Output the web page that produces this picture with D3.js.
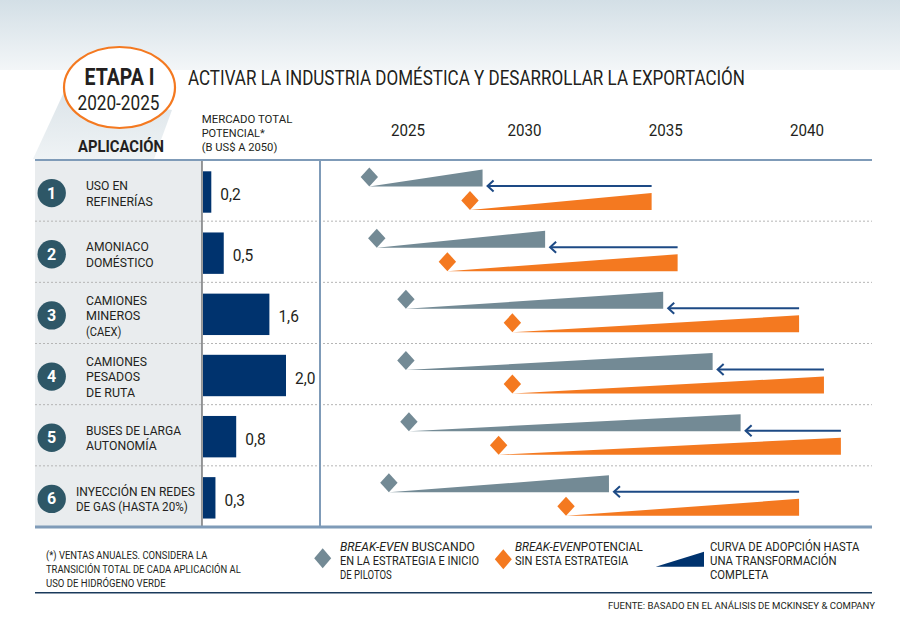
<!DOCTYPE html>
<html><head><meta charset="utf-8">
<script src="https://cdn.jsdelivr.net/npm/d3@7"></script>
<style>body{margin:0;background:#fff}svg{display:block;font-family:Roboto,"Liberation Sans",sans-serif}</style>
</head><body><svg id="c" width="900" height="633"></svg>
<script>
// ---------- DATA ----------
const appNumbers = [1, 2, 3, 4, 5, 6];
const appLabels = [
  ["USO EN", "REFINERÍAS"],
  ["AMONIACO", "DOMÉSTICO"],
  ["CAMIONES", "MINEROS", "(CAEX)"],
  ["CAMIONES", "PESADOS", "DE RUTA"],
  ["BUSES DE LARGA", "AUTONOMÍA"],
  ["INYECCIÓN EN REDES", "DE GAS (HASTA 20%)"]
];
const marketValues = [0.2, 0.5, 1.6, 2.0, 0.8, 0.3];          // B US$ a 2050
const breakEvenStrategy = [2023.34, 2023.66, 2024.91, 2024.91, 2025.04, 2024.18];
const adoptionStrategyEnd = [2028.2, 2030.73, 2034.91, 2036.66, 2037.65, 2032.99];
const breakEvenNoStrategy = [2027.66, 2026.69, 2029.48, 2029.48, 2028.89, 2031.47];
const adoptionNoStrategyEnd = [2034.5, 2035.42, 2039.72, 2040.6, 2041.2, 2039.72];
const yearTicks = [2025, 2030, 2035, 2040];
const marketHeader = ["MERCADO TOTAL", "POTENCIAL*", "(B US$ A 2050)"];
const footnoteLines = ["(*) VENTAS ANUALES. CONSIDERA LA", "TRANSICIÓN TOTAL DE CADA APLICACIÓN AL", "USO DE HIDRÓGENO VERDE"];
const legendGray = [["BREAK-EVEN", " BUSCANDO"], ["", "EN LA ESTRATEGIA E INICIO"], ["", "DE PILOTOS"]];
const legendOrange = [["BREAK-EVEN", "POTENCIAL"], ["", "SIN ESTA ESTRATEGIA"]];
const legendCurve = ["CURVA DE ADOPCIÓN HASTA", "UNA TRANSFORMACIÓN", "COMPLETA"];
const titleText = "ACTIVAR LA INDUSTRIA DOMÉSTICA Y DESARROLLAR LA EXPORTACIÓN";
const sourceText = "FUENTE: BASADO EN EL ANÁLISIS DE MCKINSEY & COMPANY";

// ---------- LAYOUT / STYLE ----------
const C = {
  gray: "#738a95", orange: "#f47920", navy: "#00336e", arrow: "#1d4a85",
  circle: "#2e5767", panel: "#e9ecee", steel: "#7f9bb8", text: "#231f20", dash: "#b5b5b5"
};
const textW = {
  "USO EN": 42, "REFINERÍAS": 66.7, "AMONIACO": 62.7, "DOMÉSTICO": 67.7, "CAMIONES": 61,
  "MINEROS": 54.3, "(CAEX)": 35.3, "PESADOS": 54, "DE RUTA": 49, "BUSES DE LARGA": 95,
  "AUTONOMÍA": 70.7, "INYECCIÓN EN REDES": 119, "DE GAS (HASTA 20%)": 111.7,
  "MERCADO TOTAL": 90.6, "POTENCIAL*": 63, "(B US$ A 2050)": 75.6,
  "(*) VENTAS ANUALES. CONSIDERA LA": 161.3, "TRANSICIÓN TOTAL DE CADA APLICACIÓN AL": 194.7,
  "USO DE HIDRÓGENO VERDE": 119.7,
  "EN LA ESTRATEGIA E INICIO": 139, "DE PILOTOS": 51.7, "SIN ESTA ESTRATEGIA": 113.3,
  "CURVA DE ADOPCIÓN HASTA": 149.3, "UNA TRANSFORMACIÓN": 126.7, "COMPLETA": 58.3
};
const L = { left: 35, right: 872, top: 160, bottom: 527, col1: 202, col2: 320 };

const svg = d3.select("#c");
const defs = svg.append("defs");
const g1 = defs.append("linearGradient").attr("id", "hdr").attr("x1", 0).attr("y1", 0).attr("x2", 0).attr("y2", 1);
g1.append("stop").attr("offset", 0).attr("stop-color", "#d3dfe6");
g1.append("stop").attr("offset", 1).attr("stop-color", "#f3f6f8");
const g2 = defs.append("linearGradient").attr("id", "shd").attr("x1", 0).attr("y1", 0).attr("x2", 0).attr("y2", 1);
g2.append("stop").attr("offset", 0).attr("stop-color", "#dce4e9");
g2.append("stop").attr("offset", 1).attr("stop-color", "#eff3f5");

function T(parent, str, x, y, o = {}) {
  const t = parent.append("text").attr("x", x).attr("y", y).text(str)
    .attr("font-size", o.size || 13).attr("fill", o.fill || C.text)
    .attr("font-weight", o.weight || 400).attr("text-anchor", o.anchor || "start");
  if (o.italic) t.attr("font-style", "italic");
  const w = o.w === 0 ? null : (o.w || textW[str]);
  if (w) t.attr("textLength", w).attr("lengthAdjust", "spacingAndGlyphs");
  return t;
}

// background header band
svg.append("rect").attr("x", 0).attr("y", 0).attr("width", 900).attr("height", 70).attr("fill", "url(#hdr)");
// shadow under the oval
svg.append("path").attr("d", "M64,92 L172,110 L154,159 L33,159 Z").attr("fill", "url(#shd)");
svg.append("ellipse").attr("cx", 119.5).attr("cy", 87.5).attr("rx", 55.5).attr("ry", 40.5)
  .attr("fill", "#fff").attr("stroke", C.orange).attr("stroke-width", 2.2);
T(svg, "ETAPA I", 119.5, 85, { size: 23.5, weight: 700, anchor: "middle", w: 70 });
T(svg, "2020-2025", 118.5, 110, { size: 20, anchor: "middle", w: 82 });
T(svg, titleText, 188, 85, { size: 19.5, w: 557 });
T(svg, "APLICACIÓN", 78, 152.3, { size: 17.4, weight: 700, w: 86 });
marketHeader.forEach((s, i) => T(svg, s, 201.7, 123.3 + i * 13.8, { size: 11.8 }));

// scales
const yBand = d3.scaleBand().domain(appNumbers).range([L.top, L.bottom]);
const xYear = d3.scaleLinear().domain([2025, 2030, 2040]).range([408, 524.5, 807]);
const xBar = d3.scaleLinear().domain([0, 2]).range([L.col1 + 1, 286]);

yearTicks.forEach(yr => T(svg, String(yr), xYear(yr), 135.7, { size: 16.4, anchor: "middle", w: 34 }));

// table
svg.append("rect").attr("x", L.left).attr("y", L.top).attr("width", L.col1 - L.left).attr("height", L.bottom - L.top).attr("fill", C.panel);
appNumbers.slice(1).forEach(n => {
  svg.append("line").attr("x1", L.left).attr("x2", L.right).attr("y1", yBand(n)).attr("y2", yBand(n))
    .attr("stroke", C.dash).attr("stroke-width", 1).attr("stroke-dasharray", "2,2");
});
svg.append("line").attr("x1", L.col1).attr("x2", L.col1).attr("y1", L.top).attr("y2", L.bottom).attr("stroke", "#58595b").attr("stroke-width", 1.2);
svg.append("line").attr("x1", L.col2).attr("x2", L.col2).attr("y1", L.top).attr("y2", L.bottom).attr("stroke", C.steel).attr("stroke-width", 2);
svg.append("line").attr("x1", L.left).attr("x2", L.right).attr("y1", L.top).attr("y2", L.top).attr("stroke", C.steel).attr("stroke-width", 2);
svg.append("line").attr("x1", L.left).attr("x2", L.right).attr("y1", L.bottom).attr("y2", L.bottom).attr("stroke", C.steel).attr("stroke-width", 3);

const fmt = v => d3.format(".1f")(v).replace(".", ",");
const bw = yBand.bandwidth();

appNumbers.forEach((n, i) => {
  const top = yBand(n), cy = top + bw / 2;
  // circle number
  svg.append("circle").attr("cx", 51.7).attr("cy", cy + 2.5).attr("r", 14.2).attr("fill", C.circle);
  T(svg, String(n), 51.7, cy + 8, { size: 16, weight: 700, fill: "#fff", anchor: "middle" });
  // label
  const lines = appLabels[i];
  const maxW = d3.max(lines, s => textW[s] || 60);
  const lx = Math.min(86, 195 - maxW);
  const lh = 15.5;
  const firstBase = cy + 2 - (lines.length - 1) * lh / 2 + 5.2;
  lines.forEach((s, j) => T(svg, s, lx, firstBase + j * lh, { size: 13.3 }));
  // bar
  svg.append("rect").attr("x", xBar(0)).attr("y", top + 11.3).attr("width", xBar(marketValues[i]) - xBar(0))
    .attr("height", 41.4).attr("fill", C.navy);
  T(svg, fmt(marketValues[i]), xBar(marketValues[i]) + 9, top + 40, { size: 16.4, w: 20.5 });

  // chart marks
  const h = 17, hw = 8.7, hh = 9.5;
  const gb = top + 26.5, ob = top + 50;
  const wedge = (x0, x1, b) => `M${x0},${b} L${x1},${b - h} L${x1},${b} Z`;
  const diamond = (cx, b) => `M${cx},${b - 2 * hh} L${cx + hw},${b - hh} L${cx},${b} L${cx - hw},${b - hh} Z`;
  svg.append("path").attr("d", wedge(xYear(breakEvenStrategy[i]), xYear(adoptionStrategyEnd[i]), gb)).attr("fill", C.gray);
  svg.append("path").attr("d", diamond(xYear(breakEvenStrategy[i]), gb)).attr("fill", C.gray);
  svg.append("path").attr("d", wedge(xYear(breakEvenNoStrategy[i]), xYear(adoptionNoStrategyEnd[i]), ob)).attr("fill", C.orange);
  svg.append("path").attr("d", diamond(xYear(breakEvenNoStrategy[i]), ob)).attr("fill", C.orange);
  // arrow
  const ay = gb - 0.5, tip = xYear(adoptionStrategyEnd[i]) + 5;
  svg.append("line").attr("x1", xYear(adoptionNoStrategyEnd[i])).attr("x2", tip + 1).attr("y1", ay).attr("y2", ay)
    .attr("stroke", C.arrow).attr("stroke-width", 2);
  svg.append("path").attr("d", `M${tip + 6},${ay - 5.5} L${tip},${ay} L${tip + 6},${ay + 5.5}`)
    .attr("fill", "none").attr("stroke", C.arrow).attr("stroke-width", 2);
});

// footnote
footnoteLines.forEach((s, i) => T(svg, s, 46, 559.3 + i * 13.7, { size: 10.8 }));

// legend
const lg = svg.append("g");
const lsz = 12;
function legendLine(x, yy, pair, w) {
  const t = lg.append("text").attr("x", x).attr("y", yy).attr("font-size", lsz).attr("fill", C.text);
  if (pair[0]) {
    t.append("tspan").attr("font-style", "italic").text(pair[0]);
    t.append("tspan").text(pair[1]);
  } else t.text(pair[1]);
  t.attr("textLength", w).attr("lengthAdjust", "spacingAndGlyphs");
}
lg.append("path").attr("d", "M322.7,548.3 L331.2,558.3 L322.7,568.3 L314.2,558.3 Z").attr("fill", C.gray);
legendLine(340, 551, legendGray[0], 135);
legendLine(340, 565, legendGray[1], 139);
legendLine(340, 579, legendGray[2], 51.7);
lg.append("path").attr("d", "M503.3,549.3 L511.8,559.3 L503.3,569.3 L494.8,559.3 Z").attr("fill", C.orange);
legendLine(515, 551, legendOrange[0], 127.7);
legendLine(515, 565, legendOrange[1], 113.3);
lg.append("path").attr("d", "M655.7,566.7 L704,551.7 L704,566.7 Z").attr("fill", C.navy);
legendCurve.forEach((s, i) => T(lg, s, 710, 551 + i * 14, { size: lsz }));

svg.append("line").attr("x1", L.left).attr("x2", L.right).attr("y1", 592.7).attr("y2", 592.7).attr("stroke", "#1a3a5c").attr("stroke-width", 1.5);
T(svg, sourceText, 608, 609.3, { size: 9.8, w: 267 });
</script></body></html>
